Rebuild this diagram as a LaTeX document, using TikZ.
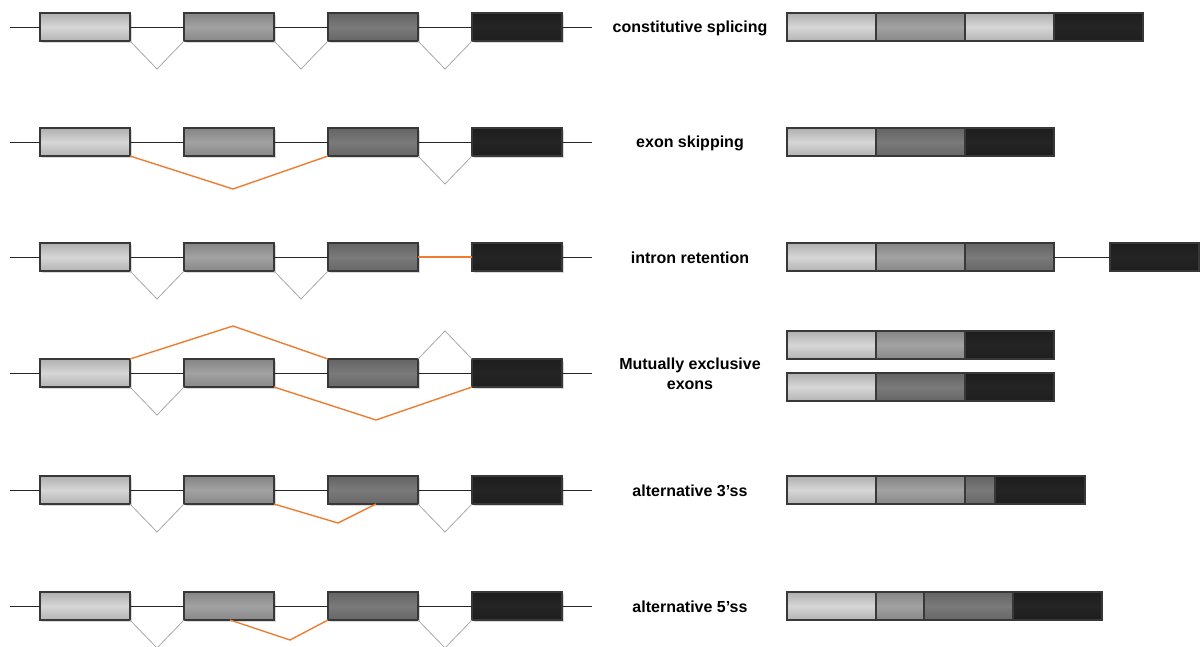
\documentclass[tikz,border=0pt]{standalone}
\usepackage{fontspec}
\setmainfont{Liberation Sans}
\usetikzlibrary{positioning,shadows}

\definecolor{exlight}{HTML}{D6D6D6}
\definecolor{exmid}{HTML}{A2A2A2}
\definecolor{exdark}{HTML}{7A7A7A}
\definecolor{exblack}{HTML}{242424}
\definecolor{splicecol}{HTML}{ED7D31}
\definecolor{introncol}{HTML}{A8A8A8}

\tikzset{
  exon/.style={draw=black!78, line width=1.1pt, minimum width=90pt, minimum height=28pt,
    inner sep=0pt, outer sep=0pt,
    top color=#1!82!black, bottom color=#1!84!black, middle color=#1},
  gene/.style={exon=#1, drop shadow={shadow xshift=2pt, shadow yshift=-2pt, opacity=0.3}},
  seg/.style={exon=#1, minimum width=89pt},
  backbone/.style={draw=black!85, line width=0.8pt},
  constit/.style={draw=introncol, line width=0.8pt},
  altsplice/.style={draw=splicecol, line width=1.4pt},
  spltext/.style={font=\bfseries\fontsize{16}{20}\selectfont, align=center}
}

\begin{document}
\begin{tikzpicture}[x=1pt, y=1pt]
    \useasboundingbox (0,0) rectangle (1200,-646);

    % Pre-mRNA: four exons on each row
    \foreach \r/\y in {1/-27, 2/-142, 3/-257, 4/-373, 5/-490, 6/-606} {
        \coordinate (g\r-s) at (10,\y);
        \coordinate (g\r-t) at (592,\y);
        \node[gene=exlight] (g\r-a) at (85,\y) {};
        \node[gene=exmid] (g\r-b) at (229,\y) {};
        \node[gene=exdark] (g\r-c) at (373,\y) {};
        \node[gene=exblack] (g\r-d) at (517,\y) {};
        \draw[backbone] (g\r-s) -- (g\r-a.west);
        \draw[backbone] (g\r-a.east) -- (g\r-b.west);
        \draw[backbone] (g\r-b.east) -- (g\r-c.west);
        \draw[backbone] (g\r-d.east) -- (g\r-t);
    }
    \foreach \r in {1,2,4,5,6}
        \draw[backbone] (g\r-c.east) -- (g\r-d.west);

    % Constitutive splicing
    \draw[constit] (g1-a.south east) -- ++(27,-28) -- (g1-b.south west);
    \draw[constit] (g1-b.south east) -- ++(27,-28) -- (g1-c.south west);
    \draw[constit] (g1-c.south east) -- ++(27,-28) -- (g1-d.south west);

    % Exon skipping
    \draw[altsplice] (g2-a.south east) -- ++(103,-33) -- (g2-c.south west);
    \draw[constit] (g2-c.south east) -- ++(27,-28) -- (g2-d.south west);

    % Intron retention
    \draw[constit] (g3-a.south east) -- ++(27,-28) -- (g3-b.south west);
    \draw[constit] (g3-b.south east) -- ++(27,-28) -- (g3-c.south west);
    \draw[altsplice] (g3-c.east) -- (g3-d.west);

    % Mutually exclusive exons
    \draw[altsplice] (g4-a.north east) -- ++(103,33) -- (g4-c.north west);
    \draw[constit] (g4-c.north east) -- ++(27,28) -- (g4-d.north west);
    \draw[constit] (g4-a.south east) -- ++(27,-28) -- (g4-b.south west);
    \draw[altsplice] (g4-b.south east) -- ++(102,-33) -- (g4-d.south west);

    % Alternative 3' splice site
    \draw[constit] (g5-a.south east) -- ++(27,-28) -- (g5-b.south west);
    \draw[altsplice] (g5-b.south east) -- ++(64,-19) -- ([xshift=3pt]g5-c.south);
    \draw[constit] (g5-c.south east) -- ++(27,-28) -- (g5-d.south west);

    % Alternative 5' splice site
    \draw[constit] (g6-a.south east) -- ++(27,-28) -- (g6-b.south west);
    \draw[altsplice] ([xshift=1pt]g6-b.south) -- ++(60,-20) -- (g6-c.south west);
    \draw[constit] (g6-c.south east) -- ++(27,-28) -- (g6-d.south west);

    % Labels
    \node[spltext] (t1) at (690,-28) {constitutive splicing};
    \node[spltext] (t2) at (690,-143) {exon skipping};
    \node[spltext] (t3) at (690,-258) {intron retention};
    \node[spltext] (t4) at (690,-374) {Mutually exclusive\\exons};
    \node[spltext] (t5) at (690,-491) {alternative 3’ss};
    \node[spltext] (t6) at (690,-607) {alternative 5’ss};

    % Mature mRNAs
    \node[seg=exlight, anchor=west] (m1-a) at (787,-27) {};
    \node[seg=exmid, right=0pt of m1-a] (m1-b) {};
    \node[seg=exlight, right=0pt of m1-b] (m1-c) {};
    \node[seg=exblack, right=0pt of m1-c] (m1-d) {};

    \node[seg=exlight, anchor=west] (m2-a) at (787,-142) {};
    \node[seg=exdark, right=0pt of m2-a] (m2-b) {};
    \node[seg=exblack, right=0pt of m2-b] (m2-c) {};

    \node[seg=exlight, anchor=west] (m3-a) at (787,-257) {};
    \node[seg=exmid, right=0pt of m3-a] (m3-b) {};
    \node[seg=exdark, right=0pt of m3-b] (m3-c) {};
    \node[seg=exblack, right=56pt of m3-c] (m3-d) {};
    \draw[backbone] (m3-c.east) -- (m3-d.west);

    \node[seg=exlight, anchor=west] (m4-a) at (787,-345) {};
    \node[seg=exmid, right=0pt of m4-a] (m4-b) {};
    \node[seg=exblack, right=0pt of m4-b] (m4-c) {};

    \node[seg=exlight, anchor=west] (m4-x) at (787,-387) {};
    \node[seg=exdark, right=0pt of m4-x] (m4-y) {};
    \node[seg=exblack, right=0pt of m4-y] (m4-z) {};

    \node[seg=exlight, anchor=west] (m5-a) at (787,-490) {};
    \node[seg=exmid, right=0pt of m5-a] (m5-b) {};
    \node[seg=exdark, minimum width=30pt, right=0pt of m5-b] (m5-c) {};
    \node[seg=exblack, minimum width=90pt, right=0pt of m5-c] (m5-d) {};

    \node[seg=exlight, anchor=west] (m6-a) at (787,-606) {};
    \node[seg=exmid, minimum width=48pt, right=0pt of m6-a] (m6-b) {};
    \node[seg=exdark, right=0pt of m6-b] (m6-c) {};
    \node[seg=exblack, right=0pt of m6-c] (m6-d) {};
\end{tikzpicture}
\end{document}
